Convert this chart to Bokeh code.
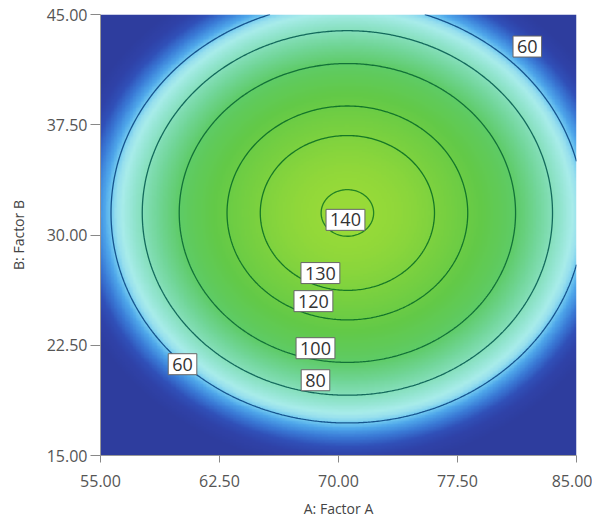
import numpy as np
from bokeh.plotting import figure
from bokeh.models import (LinearColorMapper, FixedTicker, PrintfTickFormatter, Label)
from bokeh.embed import file_html
from bokeh.resources import INLINE

# ---- data ----
a_range = [55.0, 85.0]            # A: Factor A
b_range = [15.0, 45.0]            # B: Factor B
x_ticks = [55.0, 62.5, 70.0, 77.5, 85.0]
y_ticks = [15.0, 22.5, 30.0, 37.5, 45.0]

# quadratic response surface estimated from the contour geometry
peak_value = 141.0
peak_a = 70.56
peak_b = 31.5
spread_a = 2.74   # units^2 of A per unit of response
spread_b = 2.52   # units^2 of B per unit of response

contour_levels = [60, 80, 100, 120, 130, 140]
contour_colors = ["#16558f", "#136a5c", "#127238", "#13762a", "#167826", "#238424"]

label_text = ["60", "140", "130", "120", "100", "80", "60"]
label_a = [81.9, 70.44, 68.86, 68.42, 68.55, 68.55, 60.17]
label_b = [42.82, 31.03, 27.41, 25.5, 22.3, 20.12, 21.21]

color_stops_val = [20, 32, 40, 48, 55, 59, 63, 67, 75, 88, 100, 115, 128, 141]
color_stops_hex = ["#2e3d9e", "#2f42a8", "#3050b8", "#3a7ad6", "#4ea6ea", "#70c8f0",
                   "#98e0ee", "#a8ecea", "#90e4cc", "#72d69a", "#5ecb66", "#62c948",
                   "#78d040", "#98da38"]

# ---- field on a grid ----
n = 300
ga = np.linspace(a_range[0], a_range[1], n)
gb = np.linspace(b_range[0], b_range[1], n)
A, B = np.meshgrid(ga, gb)
Z = peak_value - (A - peak_a) ** 2 / spread_a - (B - peak_b) ** 2 / spread_b


def hex2rgb(h):
    return np.array([int(h[i:i + 2], 16) for i in (1, 3, 5)], dtype=float)


vals = np.linspace(color_stops_val[0], color_stops_val[-1], 256)
rgbs = np.array([hex2rgb(h) for h in color_stops_hex])
palette = []
for v in vals:
    r = np.interp(v, color_stops_val, rgbs[:, 0])
    g = np.interp(v, color_stops_val, rgbs[:, 1])
    b = np.interp(v, color_stops_val, rgbs[:, 2])
    palette.append("#%02x%02x%02x" % (int(round(r)), int(round(g)), int(round(b))))

mapper = LinearColorMapper(palette=palette, low=color_stops_val[0], high=color_stops_val[-1],
                           low_color=palette[0], high_color=palette[-1])

p = figure(width=592, height=521, x_range=tuple(a_range), y_range=tuple(b_range),
           output_backend="svg", toolbar_location=None,
           min_border_left=100, min_border_right=16, min_border_top=14, min_border_bottom=66)
p.outline_line_color = None
p.grid.visible = False

p.image(image=[Z], x=a_range[0], y=b_range[0], dw=a_range[1] - a_range[0],
        dh=b_range[1] - b_range[0], color_mapper=mapper)

p.contour(ga, gb, Z, levels=contour_levels, fill_color=None,
          line_color=contour_colors, line_width=1.3)

for t, xa, yb in zip(label_text, label_a, label_b):
    p.add_layout(Label(x=xa, y=yb, text=t, text_align="center",
                       text_baseline="middle", text_font="Open Sans", text_font_size="18px",
                       text_color="#333333", background_fill_color="white",
                       border_line_color="#666666", border_line_width=1, padding=4))

for ax in (p.xaxis[0], p.yaxis[0]):
    ax.formatter = PrintfTickFormatter(format="%.2f")
    ax.major_label_text_font = "Open Sans"
    ax.major_label_text_font_size = "16px"
    ax.major_label_text_color = "#555555"
    ax.axis_label_text_font = "Open Sans"
    ax.axis_label_text_font_size = "14px"
    ax.axis_label_text_font_style = "normal"
    ax.axis_label_text_color = "#444444"
    ax.axis_line_color = "#999999"
    ax.major_tick_line_color = "#888888"
    ax.major_tick_in = 0
    ax.minor_tick_line_color = None

p.xaxis[0].major_tick_out = 7
p.xaxis[0].major_label_standoff = 12
p.xaxis[0].axis_label_standoff = 9
p.yaxis[0].major_tick_out = 10
p.yaxis[0].major_label_standoff = 3
p.yaxis[0].axis_label_standoff = 16

p.xaxis[0].ticker = FixedTicker(ticks=x_ticks)
p.yaxis[0].ticker = FixedTicker(ticks=y_ticks)
p.xaxis[0].axis_label = "A: Factor A"
p.yaxis[0].axis_label = "B: Factor B"

open("out.html", "w").write(file_html(p, INLINE))
